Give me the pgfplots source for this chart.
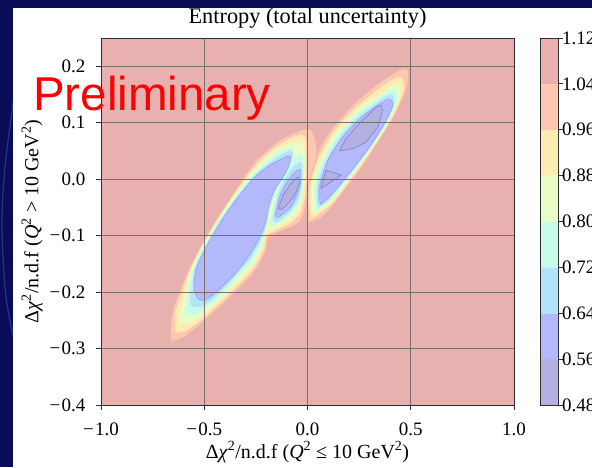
\documentclass[border=0pt]{standalone}
\usepackage{fontspec}
\setmainfont{Liberation Serif}
\setsansfont{Liberation Sans}
\usepackage{pgfplots}
\pgfplotsset{compat=1.18}

% slide and panel
\definecolor{slidebg}{RGB}{10,12,88}
\definecolor{slidearc}{RGB}{38,52,140}
% filled contour bands (jet, alpha 0.3 on white)
\definecolor{cA}{RGB}{233,176,176} % 1.04 - 1.12
\definecolor{cB}{RGB}{253,200,178} % 0.96 - 1.04
\definecolor{cC}{RGB}{254,236,178} % 0.88 - 0.96
\definecolor{cD}{RGB}{232,253,198} % 0.80 - 0.88
\definecolor{cE}{RGB}{198,252,232} % 0.72 - 0.80
\definecolor{cF}{RGB}{179,228,252} % 0.64 - 0.72
\definecolor{cG}{RGB}{179,185,250} % 0.56 - 0.64
\definecolor{cH}{RGB}{179,176,226} % 0.48 - 0.56
\definecolor{lineB}{RGB}{240,178,160}
\definecolor{lineG}{RGB}{150,160,236}
\definecolor{lineH}{RGB}{132,126,204}
\definecolor{gridc}{RGB}{122,110,110}
\definecolor{framec}{RGB}{45,45,45}

\newcommand{\tickfont}{\fontsize{19}{22}\selectfont}
\newcommand{\lblfont}{\fontsize{20}{24}\selectfont}
\newcommand{\mn}{−\kern1.5pt}

\pgfplotsset{
  band/.style={smooth, tension=0.5, draw=none, forget plot},
  edged/.style={smooth, tension=0.5, line width=0.6pt, forget plot},
  poly/.style={sharp plot, line width=0.6pt, line join=round, forget plot},
}

\begin{document}
\begin{tikzpicture}[x=1pt,y=1pt]
\path[use as bounding box] (0,0) rectangle (592,467);
\clip (0,0) rectangle (592,467);
\fill[slidebg] (0,0) rectangle (592,467);
\draw[slidearc, line width=1.2pt] plot[smooth] coordinates {(16,385) (5,300) (2,240) (6,170) (16,118)};
\fill[white] (13,0) rectangle (592,459);

\begin{axis}[
  at={(101pt,62pt)}, anchor=south west,
  scale only axis, width=413pt, height=367pt,
  xmin=-1, xmax=1, ymin=-0.4, ymax=0.25,
  axis background/.style={fill=cA},
  axis on top,
  xtick={-1,-0.5,0,0.5,1},
  xticklabels={\mn1.0,\mn0.5,0.0,0.5,1.0},
  ytick={-0.4,-0.3,-0.2,-0.1,0,0.1,0.2},
  yticklabels={\mn0.4,\mn0.3,\mn0.2,\mn0.1,0.0,0.1,0.2},
  xtick pos=left, ytick pos=left,
  tick align=outside, major tick length=4.5pt,
  tick style={framec, line width=0.8pt},
  axis line style={framec, line width=0.8pt},
  grid=major,
  grid style={gridc, line width=0.9pt},
  xticklabel style={font=\tickfont, anchor=base, yshift=-25.5pt},
  yticklabel style={font=\tickfont, anchor=east, xshift=-7.5pt},
  title={Entropy (total uncertainty)},
  title style={font=\fontsize{22.3}{26}\selectfont, at={(axis description cs:0.5,1)}, anchor=base, yshift=9pt},
  xlabel={Δ\textit{χ}\textsuperscript{2}/n.d.f (\textit{Q}\textsuperscript{2} ≤ 10 GeV\textsuperscript{2})},
  ylabel={Δ\textit{χ}\textsuperscript{2}/n.d.f (\textit{Q}\textsuperscript{2} > 10 GeV\textsuperscript{2})},
  xlabel style={font=\lblfont, at={(axis description cs:0.5,-0.128)}, anchor=center},
  ylabel style={font=\lblfont, at={(axis description cs:-0.167,0.5)}, anchor=center},
]

% ---- level 1.04 ----
\addplot[edged, fill=cB, draw=lineB] coordinates {
 (0.005,-0.078) (0.065,-0.069) (0.120,-0.048) (0.193,-0.013) (0.266,0.023)
 (0.339,0.064) (0.412,0.106) (0.467,0.147) (0.489,0.176) (0.485,0.194)
 (0.448,0.194) (0.357,0.173) (0.248,0.141) (0.156,0.106) (0.083,0.070)
 (0.028,0.029) (0.000,-0.013) (-0.005,-0.060) (0.005,-0.078)};
\addplot[edged, fill=cB, draw=lineB] coordinates {
 (-0.660,-0.288) (-0.605,-0.281) (-0.540,-0.264) (-0.470,-0.241) (-0.400,-0.218)
 (-0.330,-0.193) (-0.266,-0.168) (-0.225,-0.145) (-0.198,-0.122) (-0.190,-0.105)
 (-0.170,-0.099) (-0.136,-0.093) (-0.080,-0.085) (-0.040,-0.076) (-0.020,-0.062)
 (-0.010,-0.047) (-0.002,-0.030) (0.008,-0.010) (0.022,0.012) (0.040,0.035)
 (0.045,0.055) (0.036,0.074) (0.020,0.086) (0.001,0.089) (-0.030,0.087)
 (-0.063,0.082) (-0.100,0.076) (-0.154,0.064) (-0.214,0.045) (-0.246,0.035)
 (-0.305,0.005) (-0.368,-0.030) (-0.440,-0.070) (-0.520,-0.120) (-0.575,-0.160)
 (-0.622,-0.200) (-0.648,-0.227) (-0.664,-0.260) (-0.660,-0.288)};

% ---- level 0.96 ----
\addplot[band, fill=cC] coordinates {
 (-0.638,-0.271) (-0.589,-0.268) (-0.531,-0.254) (-0.466,-0.233) (-0.398,-0.211)
 (-0.330,-0.185) (-0.269,-0.161) (-0.230,-0.139) (-0.207,-0.119) (-0.199,-0.101)
 (-0.172,-0.094) (-0.133,-0.087) (-0.080,-0.077) (-0.038,-0.062) (-0.018,-0.040)
 (-0.008,-0.010) (-0.005,0.030) (-0.006,0.062) (-0.015,0.076) (-0.040,0.078)
 (-0.080,0.073) (-0.140,0.060) (-0.195,0.045) (-0.249,0.025) (-0.294,0.005)
 (-0.361,-0.030) (-0.434,-0.070) (-0.514,-0.120) (-0.568,-0.160) (-0.607,-0.200)
 (-0.643,-0.240) (-0.638,-0.271)};
\addplot[band, fill=cC] coordinates {
 (0.017,-0.071) (0.080,-0.055) (0.127,-0.040) (0.190,-0.010) (0.252,0.020)
 (0.308,0.050) (0.362,0.080) (0.411,0.110) (0.437,0.130) (0.468,0.160)
 (0.455,0.180) (0.410,0.176) (0.345,0.160) (0.243,0.130) (0.186,0.110)
 (0.119,0.080) (0.070,0.050) (0.035,0.020) (0.012,-0.010) (0.009,-0.040)
 (0.017,-0.071)};

% ---- level 0.88 ----
\addplot[band, fill=cD] coordinates {
 (-0.615,-0.255) (-0.573,-0.254) (-0.522,-0.244) (-0.462,-0.226) (-0.396,-0.204)
 (-0.330,-0.178) (-0.272,-0.155) (-0.235,-0.133) (-0.214,-0.115) (-0.205,-0.094)
 (-0.175,-0.089) (-0.130,-0.081) (-0.080,-0.070) (-0.042,-0.053) (-0.025,-0.032)
 (-0.014,0.000) (-0.013,0.035) (-0.016,0.055) (-0.032,0.065) (-0.065,0.066)
 (-0.115,0.058) (-0.175,0.045) (-0.232,0.025) (-0.283,0.005) (-0.354,-0.030)
 (-0.428,-0.070) (-0.508,-0.120) (-0.561,-0.160) (-0.592,-0.200) (-0.619,-0.240)
 (-0.615,-0.255)};
\addplot[band, fill=cD] coordinates {
 (0.029,-0.064) (0.075,-0.050) (0.116,-0.040) (0.182,-0.010) (0.245,0.020)
 (0.302,0.050) (0.357,0.080) (0.405,0.110) (0.430,0.130) (0.450,0.152)
 (0.440,0.168) (0.405,0.166) (0.370,0.155) (0.267,0.130) (0.205,0.110)
 (0.136,0.080) (0.085,0.050) (0.048,0.020) (0.024,-0.010) (0.021,-0.040)
 (0.029,-0.064)};

% ---- level 0.80 ----
\addplot[band, fill=cE] coordinates {
 (-0.593,-0.238) (-0.557,-0.241) (-0.513,-0.234) (-0.458,-0.218) (-0.394,-0.196)
 (-0.330,-0.170) (-0.276,-0.148) (-0.240,-0.127) (-0.220,-0.112) (-0.205,-0.088)
 (-0.188,-0.060) (-0.165,-0.030) (-0.130,0.000) (-0.095,0.025) (-0.075,0.045)
 (-0.072,0.056) (-0.110,0.054) (-0.160,0.042) (-0.215,0.025) (-0.272,0.005)
 (-0.346,-0.030) (-0.422,-0.070) (-0.502,-0.120) (-0.554,-0.160) (-0.578,-0.200)
 (-0.593,-0.238)};
\addplot[band, fill=cE] coordinates {
 (-0.180,-0.078) (-0.155,-0.030) (-0.110,0.010) (-0.068,0.035) (-0.030,0.043)
 (-0.019,0.030) (-0.020,0.000) (-0.032,-0.034) (-0.080,-0.062) (-0.130,-0.075)
 (-0.170,-0.084) (-0.180,-0.078)};
\addplot[band, fill=cE] coordinates {
 (0.041,-0.058) (0.072,-0.047) (0.106,-0.040) (0.173,-0.010) (0.237,0.020)
 (0.297,0.050) (0.351,0.080) (0.399,0.110) (0.424,0.130) (0.433,0.148)
 (0.423,0.158) (0.395,0.155) (0.290,0.130) (0.225,0.110) (0.152,0.080)
 (0.099,0.050) (0.061,0.020) (0.035,-0.010) (0.034,-0.040) (0.041,-0.058)};

% ---- level 0.72 ----
\addplot[band, fill=cF] coordinates {
 (-0.570,-0.222) (-0.541,-0.227) (-0.504,-0.224) (-0.454,-0.211) (-0.392,-0.189)
 (-0.330,-0.163) (-0.279,-0.142) (-0.245,-0.121) (-0.222,-0.105) (-0.196,-0.078)
 (-0.180,-0.048) (-0.152,-0.019) (-0.113,0.005) (-0.088,0.022) (-0.070,0.042)
 (-0.076,0.050) (-0.110,0.047) (-0.150,0.038) (-0.198,0.025) (-0.261,0.005)
 (-0.339,-0.030) (-0.416,-0.070) (-0.496,-0.120) (-0.547,-0.160) (-0.563,-0.200)
 (-0.570,-0.222)};
\addplot[band, fill=cF] coordinates {
 (-0.168,-0.070) (-0.142,-0.026) (-0.102,0.004) (-0.064,0.024) (-0.032,0.030)
 (-0.025,0.016) (-0.028,-0.008) (-0.045,-0.036) (-0.080,-0.056) (-0.125,-0.070)
 (-0.158,-0.077) (-0.168,-0.070)};
\addplot[band, fill=cF] coordinates {
 (0.053,-0.051) (0.075,-0.044) (0.095,-0.040) (0.165,-0.010) (0.230,0.020)
 (0.291,0.050) (0.346,0.080) (0.393,0.110) (0.417,0.130) (0.420,0.143)
 (0.408,0.150) (0.375,0.146) (0.314,0.130) (0.244,0.110) (0.169,0.080)
 (0.114,0.050) (0.074,0.020) (0.047,-0.010) (0.046,-0.040) (0.053,-0.051)};

% ---- level 0.64 ----
\addplot[edged, fill=cG, draw=lineG] coordinates {
 (-0.530,-0.212) (-0.508,-0.215) (-0.484,-0.212) (-0.427,-0.195) (-0.347,-0.166)
 (-0.282,-0.135) (-0.234,-0.105) (-0.205,-0.078) (-0.189,-0.048) (-0.160,-0.019)
 (-0.120,0.003) (-0.095,0.020) (-0.082,0.036) (-0.085,0.041) (-0.104,0.040)
 (-0.120,0.037) (-0.181,0.025) (-0.250,0.005) (-0.332,-0.030) (-0.410,-0.070)
 (-0.490,-0.120) (-0.540,-0.160) (-0.548,-0.195) (-0.530,-0.212)};
\addplot[edged, fill=cG, draw=lineG] coordinates {
 (-0.155,-0.062) (-0.132,-0.028) (-0.095,-0.003) (-0.060,0.013) (-0.036,0.017)
 (-0.032,0.004) (-0.042,-0.020) (-0.080,-0.049) (-0.125,-0.063) (-0.148,-0.068)
 (-0.155,-0.062)};
\addplot[edged, fill=cG, draw=lineG] coordinates {
 (0.065,-0.045) (0.101,-0.033) (0.156,-0.010) (0.229,0.023) (0.302,0.058)
 (0.366,0.094) (0.412,0.129) (0.405,0.140) (0.393,0.142) (0.357,0.135)
 (0.266,0.111) (0.174,0.076) (0.101,0.035) (0.058,-0.013) (0.057,-0.035)
 (0.065,-0.045)};

% ---- level 0.56 ----
\addplot[poly, fill=cH, draw=lineH] coordinates {
 (-0.142,-0.052) (-0.120,-0.030) (-0.085,-0.010) (-0.055,0.002) (-0.042,0.004)
 (-0.040,-0.008) (-0.058,-0.026) (-0.090,-0.041) (-0.125,-0.054) (-0.142,-0.052)};
\addplot[poly, fill=cH, draw=lineH] coordinates {
 (0.155,0.050) (0.220,0.054) (0.285,0.066) (0.342,0.093) (0.363,0.122)
 (0.358,0.131) (0.334,0.128) (0.252,0.099) (0.187,0.072) (0.155,0.050)};
\addplot[poly, fill=cH, draw=lineH] coordinates {
 (0.065,-0.017) (0.163,0.007) (0.090,0.016) (0.065,-0.017)};
\end{axis}

% colour bar
\begin{axis}[
  at={(540pt,62pt)}, anchor=south west,
  scale only axis, width=18pt, height=367pt,
  xmin=0, xmax=1, ymin=0.48, ymax=1.12,
  axis on top,
  xtick=\empty,
  ytick={0.48,0.56,0.64,0.72,0.80,0.88,0.96,1.04,1.12},
  yticklabels={0.48,0.56,0.64,0.72,0.80,0.88,0.96,1.04,1.12},
  ytick pos=right, yticklabel pos=right,
  tick align=outside, major tick length=4.5pt,
  tick style={framec, line width=0.8pt},
  axis line style={framec, line width=0.8pt},
  yticklabel style={font=\tickfont, anchor=west, xshift=-4pt},
]
\addplot[fill=cH, draw=none] coordinates {(0,0.48) (1,0.48) (1,0.56) (0,0.56) (0,0.48)};
\addplot[fill=cG, draw=none] coordinates {(0,0.56) (1,0.56) (1,0.64) (0,0.64) (0,0.56)};
\addplot[fill=cF, draw=none] coordinates {(0,0.64) (1,0.64) (1,0.72) (0,0.72) (0,0.64)};
\addplot[fill=cE, draw=none] coordinates {(0,0.72) (1,0.72) (1,0.80) (0,0.80) (0,0.72)};
\addplot[fill=cD, draw=none] coordinates {(0,0.80) (1,0.80) (1,0.88) (0,0.88) (0,0.80)};
\addplot[fill=cC, draw=none] coordinates {(0,0.88) (1,0.88) (1,0.96) (0,0.96) (0,0.88)};
\addplot[fill=cB, draw=none] coordinates {(0,0.96) (1,0.96) (1,1.04) (0,1.04) (0,0.96)};
\addplot[fill=cA, draw=none] coordinates {(0,1.04) (1,1.04) (1,1.12) (0,1.12) (0,1.04)};
\end{axis}

\node[anchor=base west, inner sep=0pt, text=red, font=\fontsize{47.5}{52}\selectfont\sffamily] at (33,356) {Preliminary};
\end{tikzpicture}
\end{document}
